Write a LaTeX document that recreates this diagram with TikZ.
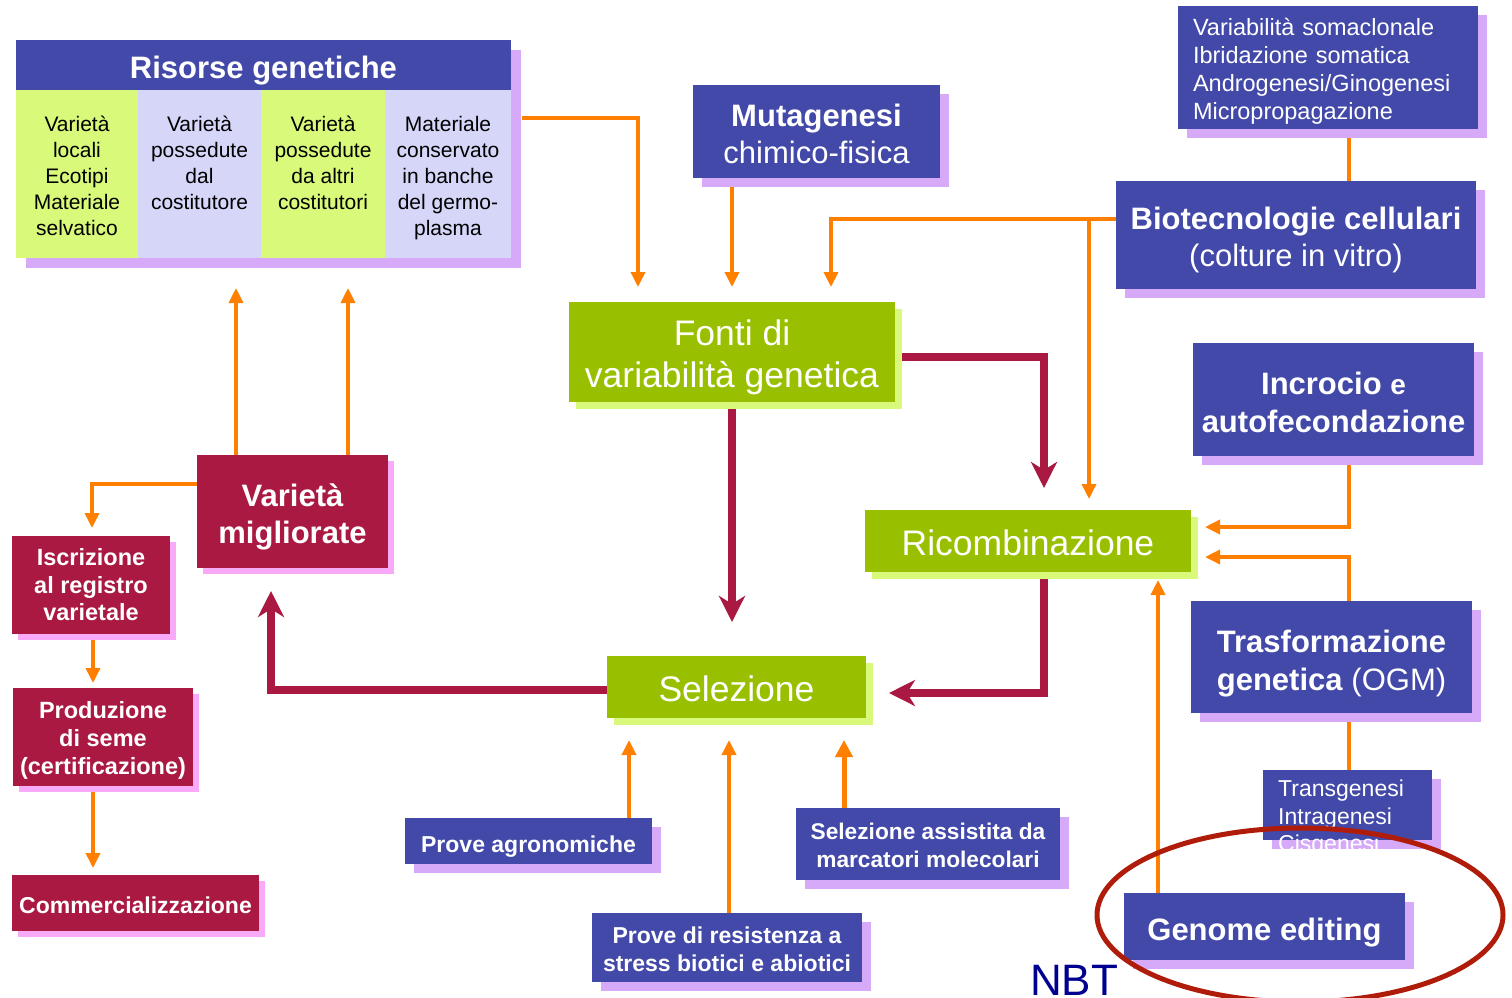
\documentclass[tikz,border=0pt]{standalone}
\usepackage{fontspec}
\setmainfont{Liberation Sans}
\usetikzlibrary{arrows.meta,shadows}
\definecolor{myblue}{RGB}{67,73,168}
\definecolor{mypurple}{RGB}{214,170,248}
\definecolor{mycrim}{RGB}{170,25,66}
\definecolor{mypink}{RGB}{248,170,248}
\definecolor{mygreen}{RGB}{153,192,0}
\definecolor{mylgreen}{RGB}{216,249,122}
\definecolor{mylav}{RGB}{214,214,248}
\definecolor{myorange}{RGB}{255,128,0}
\definecolor{ellcol}{RGB}{176,28,10}
\definecolor{navy}{RGB}{0,0,144}
\newcommand\setfs[2]{\fontsize{#1pt}{#2pt}\selectfont}
\newcommand\pushup[1]{\rule{0pt}{\dimexpr 0.74em+#1pt*2\relax}}
\pgfdeclarelayer{bg}
\pgfsetlayers{bg,main}
\tikzset{
  box/.style={inner sep=0pt, outer sep=0pt, align=center, text=white},
  push/.style={execute at begin node={\pushup{#1}}},
  bluebox/.style={box, fill=myblue, drop shadow={shadow xshift=9pt, shadow yshift=-9pt, fill=mypurple, opacity=1}},
  crimbox/.style={box, fill=mycrim, drop shadow={shadow xshift=6pt, shadow yshift=-6pt, fill=mypink, opacity=1}},
  greenbox/.style={box, fill=mygreen, drop shadow={shadow xshift=7pt, shadow yshift=-7pt, fill=mylgreen, opacity=1}},
  coltext/.style={inner sep=0pt, align=center, text=black, font=\setfs{21}{26}, anchor=north},
  oarr/.style={draw=myorange, line width=3.5pt, -{Triangle[length=15pt,width=14pt]}},
  oline/.style={draw=myorange, line width=3.5pt},
  carr/.style={draw=mycrim, line width=7.5pt, -{Stealth[length=26pt,width=26pt,inset=8pt]}},
}
\begin{document}
\begin{tikzpicture}[x=1pt,y=-1pt]
\useasboundingbox (0,0) rectangle (1512,997);

% Risorse genetiche
\node[box, fill=white, drop shadow={shadow xshift=10pt, shadow yshift=-10pt, fill=mypurple, opacity=1}, minimum width=495pt, minimum height=218pt] (risorse) at (263.5,149) {};
\node[box, fill=myblue, minimum width=495pt, minimum height=50pt, font=\setfs{31}{37}\bfseries, push=5] (rhead) at (263.5,65) {Risorse genetiche};
\node[box, fill=mylgreen, minimum width=122pt, minimum height=168pt] (c1) at (77,174) {};
\node[box, fill=mylav, minimum width=123pt, minimum height=168pt] (c2) at (199.5,174) {};
\node[box, fill=mylgreen, minimum width=124pt, minimum height=168pt] (c3) at (323,174) {};
\node[box, fill=mylav, minimum width=126pt, minimum height=168pt] (c4) at (448,174) {};
\node[coltext] (t1) at (c1.north |- 0,116) {Varietà\\locali\\Ecotipi\\Materiale\\selvatico};
\node[coltext] (t2) at (c2.north |- 0,116) {Varietà\\possedute\\dal\\costitutore};
\node[coltext] (t3) at (c3.north |- 0,116) {Varietà\\possedute\\da altri\\costitutori};
\node[coltext] (t4) at (c4.north |- 0,116) {Materiale\\conservato\\in banche\\del germo-\\plasma};

% top / right boxes
\node[bluebox, minimum width=247pt, minimum height=93pt, font=\setfs{31}{37}] (mut) at (816.5,131.5) {\pushup{2}\textbf{Mutagenesi}\\chimico-fisica};
\node[greenbox, minimum width=326pt, minimum height=100pt, font=\setfs{35.5}{42}] (fonti) at (732,352) {\pushup{5}Fonti di\\variabilità genetica};
\node[bluebox, minimum width=300pt, minimum height=123pt, font=\setfs{23.5}{28}, align=left, anchor=west, inner xsep=15pt, text width=270pt, push=4] (soma) at (1178,67.5) {Variabilità somaclonale\\Ibridazione somatica\\Androgenesi/Ginogenesi\\Micropropagazione};
\node[bluebox, minimum width=360pt, minimum height=108pt, font=\setfs{31}{37}] (bio) at (1296,235) {\pushup{5}\textbf{Biotecnologie cellulari}\\(colture in vitro)};
\node[bluebox, minimum width=281pt, minimum height=113pt, font=\setfs{31}{38}\bfseries] (incr) at (1333.5,399.5) {\pushup{3}Incrocio {\setfs{28}{38}e}\\autofecondazione};
\node[greenbox, minimum width=326pt, minimum height=62pt, font=\setfs{35.5}{42}, push=2] (ricomb) at (1028,541) {Ricombinazione};
\node[bluebox, minimum width=281pt, minimum height=112pt, font=\setfs{31}{38}] (trasf) at (1331.5,657) {\pushup{6}\textbf{Trasformazione}\\\textbf{genetica} (OGM)};
\node[bluebox, minimum width=169pt, minimum height=70pt] (trans) at (1347.5,805) {};
\node[inner sep=0pt, align=left, text=white, font=\setfs{23}{27.5}, anchor=west] (transtxt) at ([xshift=15pt,yshift=-13.5pt]trans.west) {Transgenesi\\Intragenesi\\Cisgenesi};
\node[bluebox, minimum width=281pt, minimum height=67pt, font=\setfs{31}{37}\bfseries, push=6] (genome) at (1264.5,926.5) {Genome editing};

% left column
\node[crimbox, minimum width=191pt, minimum height=113pt, font=\setfs{31}{37}\bfseries] (varmig) at (292.5,511.5) {\pushup{5}Varietà\\migliorate};
\node[crimbox, minimum width=158pt, minimum height=98pt, font=\setfs{23.5}{27.5}\bfseries] (iscr) at (91,585) {Iscrizione\\al registro\\varietale};
\node[crimbox, minimum width=180pt, minimum height=98pt, font=\setfs{23.5}{28}\bfseries] (prod) at (103,737) {\pushup{3}Produzione\\di seme\\(certificazione)};
\node[crimbox, minimum width=247pt, minimum height=56pt, font=\setfs{23}{28}\bfseries, push=2] (comm) at (135.5,903) {Commercializzazione};

% selection area
\node[greenbox, minimum width=259pt, minimum height=62pt, font=\setfs{35.5}{42}, push=2] (sel) at (736.5,687) {Selezione};
\node[bluebox, minimum width=247pt, minimum height=46pt, font=\setfs{23}{28}\bfseries, push=5] (agro) at (528.5,841) {Prove agronomiche};
\node[bluebox, minimum width=270pt, minimum height=69pt, font=\setfs{23}{28}\bfseries] (resist) at (727,947.5) {\pushup{2}Prove di resistenza a\\stress biotici e abiotici};
\node[bluebox, minimum width=264pt, minimum height=72pt, font=\setfs{22.7}{28}\bfseries] (mas) at (928,844) {\pushup{1}Selezione assistita da\\marcatori molecolari};

% NBT + ellipse
\node[inner sep=0pt, anchor=base west, text=navy, font=\setfs{44}{50}, text depth=0pt] (nbt) at (1030,995) {NBT};
\draw[ellcol, line width=5pt] (1300,915) ellipse [x radius=203, y radius=87];

% connectors
\coordinate (vx) at (1349,0);
\coordinate (bioL) at ([yshift=16pt]bio.west);
\coordinate (ricT) at ([xshift=61pt]ricomb.north);
\begin{pgfonlayer}{bg}
\draw[oarr, shorten >=15pt] ([xshift=11pt,yshift=31pt]risorse.east) -| ([xshift=-94pt]fonti.north);
\draw[oarr, shorten >=15pt] (fonti.north |- mut.south) -- (fonti.north);
\draw[oarr, shorten >=15pt] (bioL) -| ([xshift=99pt]fonti.north);
\draw[oarr, shorten >=11pt] (bioL -| ricT) -- (ricT);
\draw[oline] (soma.south -| vx) -- (bio.north -| vx);
\draw[oarr, shorten >=14pt] (incr.south -| vx) |- ([yshift=14pt]ricomb.east);
\draw[oarr, shorten >=14pt] (trasf.north -| vx) |- ([yshift=-16pt]ricomb.east);
\draw[oline] (trans.north -| vx) -- (trasf.south -| vx);
\draw[oarr, shorten >=8pt] (genome.north -| 1158,0) -- (ricomb.south -| 1158,0);
\draw[oarr, shorten >=30pt] (varmig.north -| 236,0) -- (risorse.south -| 236,0);
\draw[oarr, shorten >=30pt] (varmig.north -| 348,0) -- (risorse.south -| 348,0);
\draw[oarr, shorten >=8pt] ([yshift=27.5pt]varmig.west) -| (iscr.north -| 92,0);
\draw[oarr, shorten >=5pt] (iscr.south -| 93,0) -- (prod.north -| 93,0);
\draw[oarr, shorten >=7pt] (prod.south -| 93,0) -- (comm.north -| 93,0);
\draw[oarr, shorten >=22pt] (agro.north -| 629,0) -- (sel.south -| 629,0);
\draw[oarr, shorten >=22pt] (resist.north -| 729,0) -- (sel.south -| 729,0);
\draw[oarr, line width=5pt, shorten >=22pt, -{Triangle[length=17pt,width=17pt]}] (mas.north -| 844,0) -- (sel.south -| 844,0);
\draw[carr, shorten >=22pt] ([yshift=-5pt]fonti.east) -| (ricomb.north -| 1044,0);
\draw[carr, shorten >=34pt] (fonti.south) -- (sel.north -| fonti.south);
\draw[carr, shorten >=23pt] (ricomb.south -| 1044,0) |- ([yshift=-6pt]sel.east);
\draw[carr, shorten >=23pt] ([yshift=-3pt]sel.west) -| (varmig.south -| 271,0);
\end{pgfonlayer}
\end{tikzpicture}
\end{document}
